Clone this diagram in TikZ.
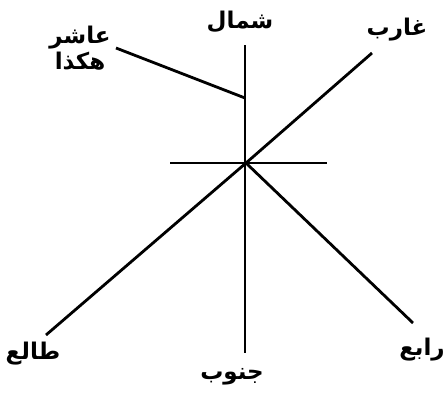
\documentclass[tikz,border=0pt]{standalone}
\usepackage{fontspec}
\newfontfamily\arabicfont[Script=Arabic]{DejaVu Sans}
\TeXXeTstate=1
\usetikzlibrary{positioning}

\begin{document}
\begin{tikzpicture}[
  x=1pt, y=-1pt,
  stroke/.style={line width=2.8pt},
  dir/.style={font=\arabicfont\bfseries\fontsize{23}{24}\selectfont, inner sep=0pt,
    align=center},
]
  \useasboundingbox (0,0) rectangle (448,402);

  % centre and line ends
  \coordinate (o) at (246,163);
  \coordinate (n) at (245,45);
  \coordinate (s) at (245,353);
  \coordinate (w) at (170,163);
  \coordinate (e) at (327,163);
  \coordinate (ne) at (372,53);
  \coordinate (sw) at (46,335);
  \coordinate (se) at (413,323);
  \coordinate (mark) at (245,98);
  \coordinate (hint) at (116,48);

  \node[dir] (north) at (240,22) {\beginR شمال\endR};
  \node[dir] (tenth) at (80,48) {\beginR عاشر\endR\\[2pt]\beginR هكذا\endR};
  \node[dir] (setting) at (397,30) {\beginR غارب\endR};
  \node[dir] (rising) at (33,354) {\beginR طالع\endR};
  \node[dir] (south) at (232,377) {\beginR جنوب\endR};
  \node[dir] (fourth) at (422,350) {\beginR رابع\endR};

  \draw[stroke] (n) -- (s);
  \draw[stroke] (w) -- (e);
  \draw[stroke] (sw) -- (o) -- (ne);
  \draw[stroke] (o) -- (se);
  \draw[stroke] (hint) -- (mark);
\end{tikzpicture}
\end{document}
